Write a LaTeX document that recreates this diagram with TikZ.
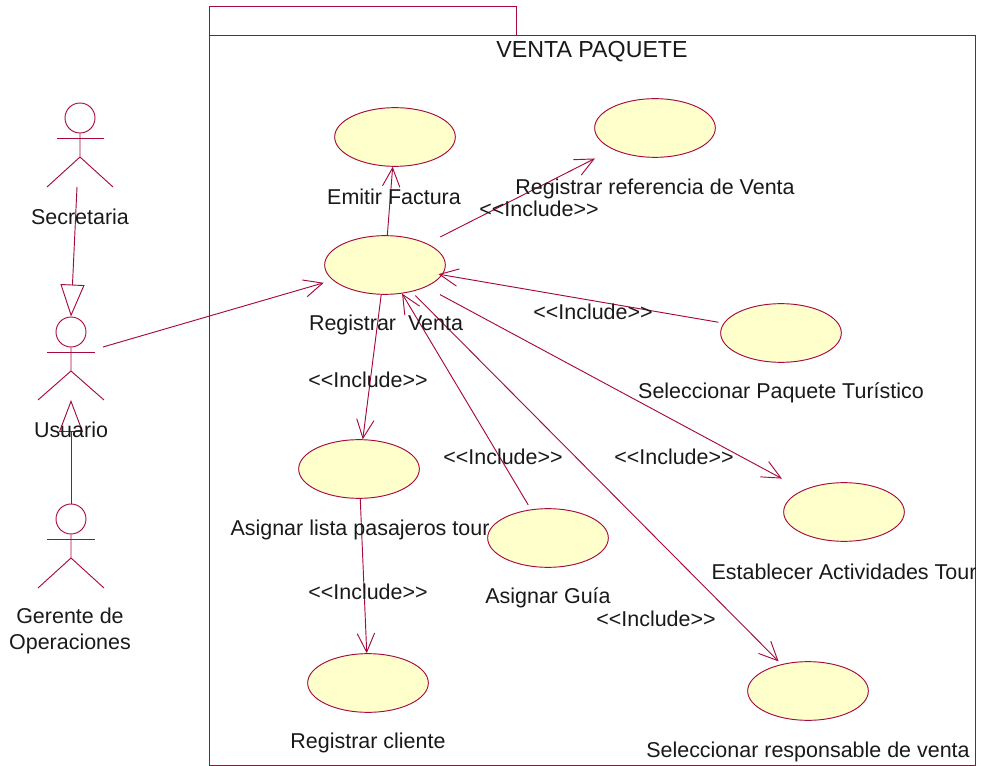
\documentclass[tikz,border=0pt]{standalone}
\usepackage{fontspec}
\setmainfont{Liberation Sans}
\usepackage{xcolor}
\usetikzlibrary{shapes.geometric,arrows.meta}
\definecolor{umlline}{HTML}{A5093F}
\definecolor{umlfill}{HTML}{FFFFCC}
\tikzset{
  usecase/.style={draw=umlline,fill=umlfill,ellipse,minimum width=90.5pt,minimum height=44pt,inner sep=0pt,line width=0.7pt},
  cabeza/.style={draw=umlline,circle,minimum size=22.5pt,inner sep=0pt,line width=0.7pt},
  etiqueta/.style={font=\fontsize{16.1}{19.5}\selectfont,text=black!90,inner sep=0pt,align=center},
  linea/.style={draw=umlline,line width=0.7pt},
  incluye/.style={linea,-{Straight Barb[length=14pt,width=13pt,line width=0.7pt]}},
  hereda/.style={linea,-{Triangle[open,length=24pt,width=18pt,line width=0.7pt]}}
}
\begin{document}
\begin{tikzpicture}[x=0.75pt,y=-0.75pt]
\useasboundingbox (0,0) rectangle (982,766);
% paquete
\draw[linea] (209,6) rectangle (516,35);
\draw[linea] (209,35) rectangle (975,765);
\node[etiqueta,font=\fontsize{17.4}{20}\selectfont] (titulo) at (592,52) {VENTA PAQUETE};
% casos de uso
\node[usecase] (factura) at (395,137) {};
\node[usecase] (referencia) at (655,128) {};
\node[usecase] (venta) at (385,265) {};
\node[usecase] (paquete) at (781,333) {};
\node[usecase] (lista) at (359,469) {};
\node[usecase] (actividades) at (844,512) {};
\node[usecase] (guia) at (548,538) {};
\node[usecase] (cliente) at (368,683) {};
\node[usecase] (responsable) at (808,691) {};
% actores
\node[cabeza] (secretaria) at (80,118) {};
\draw[linea] (secretaria.south) -- (80,157) -- (47,187);
\draw[linea] (80,157) -- (113,187);
\draw[linea] (57,138) -- (104,138);
\node[cabeza] (usuario) at (71,332) {};
\draw[linea] (usuario.south) -- (71,371) -- (38,400);
\draw[linea] (71,371) -- (104,400);
\draw[linea] (47,352) -- (95,352);
\node[cabeza] (gerente) at (71,519) {};
\draw[linea] (gerente.south) -- (71,558) -- (38,588);
\draw[linea] (71,558) -- (104,588);
\draw[linea] (47,539) -- (95,539);
% relaciones
\coordinate (piesecretaria) at (77,187);
\coordinate (manousuario) at (103,347);
\coordinate (pieusuario) at (71,400);
\draw[hereda] (piesecretaria) -- (usuario.north);
\draw[hereda] (gerente.north) -- (pieusuario);
\draw[incluye,shorten >=7pt] (manousuario) -- (venta);
\draw[incluye] (venta) -- (factura);
\draw[incluye,shorten <=11pt,shorten >=15pt] (venta) -- (referencia);
\draw[incluye,shorten <=4pt,shorten >=-3pt] (paquete) -- (venta);
\draw[incluye,shorten <=12pt,shorten >=18pt] (venta) -- (actividades);
\draw[incluye,shorten <=4pt] (guia) -- (venta);
\draw[incluye,shorten <=4pt,shorten >=3pt] (venta) -- (responsable);
\draw[incluye] (venta) -- (lista);
\draw[incluye] (lista) -- (cliente);
% textos
\node[etiqueta] (tsecretaria) at (80,217) {Secretaria};
\node[etiqueta] (tusuario) at (71,430) {Usuario};
\node[etiqueta] (tgerente) at (70,631) {Gerente de\\Operaciones};
\node[etiqueta] (tfactura) at (394,197) {Emitir Factura};
\node[etiqueta] (treferencia) at (655,189) {Registrar referencia de Venta};
\node[etiqueta] (tventa) at (386,325) {Registrar\ \ Venta};
\node[etiqueta] (tpaquete) at (781,393) {Seleccionar Paquete Turístico};
\node[etiqueta] (tlista) at (360,530) {Asignar lista pasajeros tour};
\node[etiqueta] (tactividades) at (844,572) {Establecer Actividades Tour};
\node[etiqueta] (tguia) at (548,598) {Asignar Guía};
\node[etiqueta] (tcliente) at (368,743) {Registrar cliente};
\node[etiqueta] (tresponsable) at (808,752) {Seleccionar responsable de venta};
\node[etiqueta] (i1) at (539,209) {<{}<Include>{}>};
\node[etiqueta] (i2) at (593,312) {<{}<Include>{}>};
\node[etiqueta] (i3) at (368,380) {<{}<Include>{}>};
\node[etiqueta] (i4) at (503,457) {<{}<Include>{}>};
\node[etiqueta] (i5) at (674,457) {<{}<Include>{}>};
\node[etiqueta] (i6) at (368,592) {<{}<Include>{}>};
\node[etiqueta] (i7) at (656,619) {<{}<Include>{}>};
\end{tikzpicture}
\end{document}
